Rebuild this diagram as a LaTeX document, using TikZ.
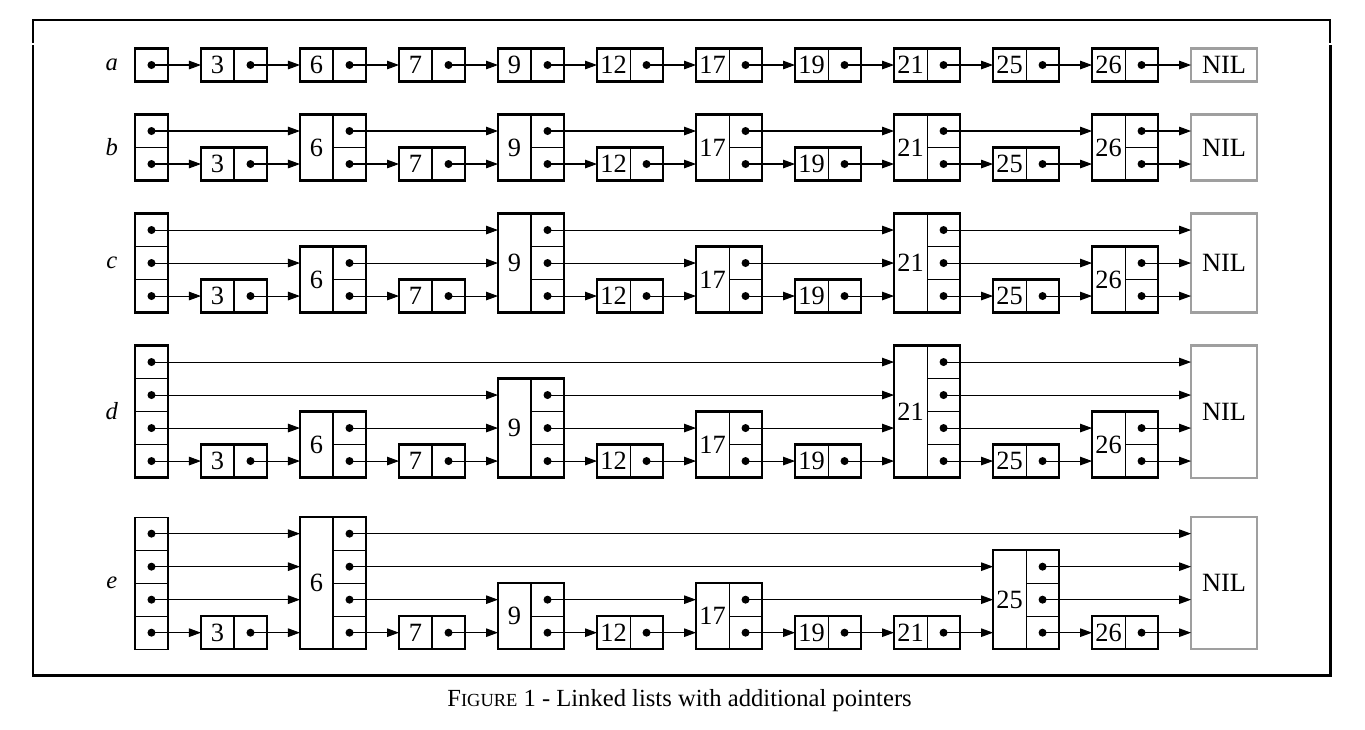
\documentclass[tikz,border=0pt]{standalone}
\usepackage{fontspec}
\setmainfont{Liberation Serif}
\usetikzlibrary{arrows.meta}

\def\cellsz{0.66cm}
\def\dotr{0.08cm}

\tikzset{
  keycell/.style={draw, line width=0.6pt, anchor=south west, inner sep=0pt, outer sep=0pt,
    minimum width=\cellsz, font=\fontsize{15}{17}\selectfont},
  ptrcell/.style={draw, line width=0.6pt, anchor=south west, inner sep=0pt, outer sep=0pt,
    minimum width=\cellsz, minimum height=\cellsz},
  outer/.style={line width=1.3pt},
  thinouter/.style={line width=0.6pt},
  nilbox/.style={draw=gray!75, line width=1.2pt, anchor=south west, inner sep=0pt, outer sep=0pt,
    minimum width=2*\cellsz, font=\fontsize{15}{17}\selectfont},
  ptr/.style={line width=0.6pt, -{Triangle[length=2.4mm, width=1.7mm]}},
  rowlabel/.style={font=\fontsize{14}{16}\selectfont\itshape},
}

% one element: name, x, bottom y, levels, key
\newcommand{\skipelem}[5]{%
  \node[keycell, minimum height=#4*\cellsz] (#1) at (#2,#3) {#5};
  \foreach \l in {1,...,#4} {
    \node[ptrcell] (#1-\l) at (#2+1,#3+\l-1) {};
    \fill (#1-\l) circle[radius=\dotr];
  }
  \draw[outer] (#1.south west) rectangle (#1-#4.north east);
}

% list head: [style], name, x, bottom y, levels
\newcommand{\skiphead}[5][outer]{%
  \foreach \l in {1,...,#5} {
    \node[ptrcell] (#2-\l) at (#3,#4+\l-1) {};
    \fill (#2-\l) circle[radius=\dotr];
  }
  \draw[#1] (#2-1.south west) rectangle (#2-#5.north east);
}

% NIL: name, x, bottom y, levels
\newcommand{\skipnil}[4]{%
  \node[nilbox, minimum height=#4*\cellsz] (#1) at (#2,#3) {NIL};
}

\begin{document}
\begin{tikzpicture}[x=\cellsz, y=\cellsz, font=\fontsize{14}{16}\selectfont]
  \useasboundingbox (-4.09,-2.42) rectangle (37.27,19.67);

  % frame
  \draw[line width=0.8pt] (-3.09,18.36) -- (-3.09,19.06) -- (36.21,19.06) -- (36.21,18.36);
  \draw[line width=1.7pt] (-3.09,18.3) -- (-3.09,-0.79) -- (36.21,-0.79) -- (36.21,18.3);

  % a
  \node[rowlabel] (la) at (-0.7,17.7) {a};
  \skiphead{a0}{0}{17.2}{1}
  \skipelem{a3}{2}{17.2}{1}{3}
  \skipelem{a6}{5}{17.2}{1}{6}
  \skipelem{a7}{8}{17.2}{1}{7}
  \skipelem{a9}{11}{17.2}{1}{9}
  \skipelem{a12}{14}{17.2}{1}{12}
  \skipelem{a17}{17}{17.2}{1}{17}
  \skipelem{a19}{20}{17.2}{1}{19}
  \skipelem{a21}{23}{17.2}{1}{21}
  \skipelem{a25}{26}{17.2}{1}{25}
  \skipelem{a26}{29}{17.2}{1}{26}
  \skipnil{aN}{32}{17.2}{1}
  \foreach \s/\l/\d in {a0/1/a3, a3/1/a6, a6/1/a7, a7/1/a9, a9/1/a12, a12/1/a17,
      a17/1/a19, a19/1/a21, a21/1/a25, a25/1/a26, a26/1/aN}
    \draw[ptr] (\s-\l.center) -- (\s-\l.center -| \d.west);

  % b
  \node[rowlabel] (lb) at (-0.7,15.2) {b};
  \skiphead{b0}{0}{14.2}{2}
  \skipelem{b3}{2}{14.2}{1}{3}
  \skipelem{b6}{5}{14.2}{2}{6}
  \skipelem{b7}{8}{14.2}{1}{7}
  \skipelem{b9}{11}{14.2}{2}{9}
  \skipelem{b12}{14}{14.2}{1}{12}
  \skipelem{b17}{17}{14.2}{2}{17}
  \skipelem{b19}{20}{14.2}{1}{19}
  \skipelem{b21}{23}{14.2}{2}{21}
  \skipelem{b25}{26}{14.2}{1}{25}
  \skipelem{b26}{29}{14.2}{2}{26}
  \skipnil{bN}{32}{14.2}{2}
  \foreach \s/\l/\d in {b0/1/b3, b3/1/b6, b6/1/b7, b7/1/b9, b9/1/b12, b12/1/b17,
      b17/1/b19, b19/1/b21, b21/1/b25, b25/1/b26, b26/1/bN,
      b0/2/b6, b6/2/b9, b9/2/b17, b17/2/b21, b21/2/b26, b26/2/bN}
    \draw[ptr] (\s-\l.center) -- (\s-\l.center -| \d.west);

  % c
  \node[rowlabel] (lc) at (-0.7,11.7) {c};
  \skiphead{c0}{0}{10.2}{3}
  \skipelem{c3}{2}{10.2}{1}{3}
  \skipelem{c6}{5}{10.2}{2}{6}
  \skipelem{c7}{8}{10.2}{1}{7}
  \skipelem{c9}{11}{10.2}{3}{9}
  \skipelem{c12}{14}{10.2}{1}{12}
  \skipelem{c17}{17}{10.2}{2}{17}
  \skipelem{c19}{20}{10.2}{1}{19}
  \skipelem{c21}{23}{10.2}{3}{21}
  \skipelem{c25}{26}{10.2}{1}{25}
  \skipelem{c26}{29}{10.2}{2}{26}
  \skipnil{cN}{32}{10.2}{3}
  \foreach \s/\l/\d in {c0/1/c3, c3/1/c6, c6/1/c7, c7/1/c9, c9/1/c12, c12/1/c17,
      c17/1/c19, c19/1/c21, c21/1/c25, c25/1/c26, c26/1/cN,
      c0/2/c6, c6/2/c9, c9/2/c17, c17/2/c21, c21/2/c26, c26/2/cN,
      c0/3/c9, c9/3/c21, c21/3/cN}
    \draw[ptr] (\s-\l.center) -- (\s-\l.center -| \d.west);

  % d
  \node[rowlabel] (ld) at (-0.7,7.2) {d};
  \skiphead{d0}{0}{5.2}{4}
  \skipelem{d3}{2}{5.2}{1}{3}
  \skipelem{d6}{5}{5.2}{2}{6}
  \skipelem{d7}{8}{5.2}{1}{7}
  \skipelem{d9}{11}{5.2}{3}{9}
  \skipelem{d12}{14}{5.2}{1}{12}
  \skipelem{d17}{17}{5.2}{2}{17}
  \skipelem{d19}{20}{5.2}{1}{19}
  \skipelem{d21}{23}{5.2}{4}{21}
  \skipelem{d25}{26}{5.2}{1}{25}
  \skipelem{d26}{29}{5.2}{2}{26}
  \skipnil{dN}{32}{5.2}{4}
  \foreach \s/\l/\d in {d0/1/d3, d3/1/d6, d6/1/d7, d7/1/d9, d9/1/d12, d12/1/d17,
      d17/1/d19, d19/1/d21, d21/1/d25, d25/1/d26, d26/1/dN,
      d0/2/d6, d6/2/d9, d9/2/d17, d17/2/d21, d21/2/d26, d26/2/dN,
      d0/3/d9, d9/3/d21, d21/3/dN,
      d0/4/d21, d21/4/dN}
    \draw[ptr] (\s-\l.center) -- (\s-\l.center -| \d.west);

  % e
  \node[rowlabel] (le) at (-0.7,2) {e};
  \skiphead[thinouter]{e0}{0}{0}{4}
  \skipelem{e3}{2}{0}{1}{3}
  \skipelem{e6}{5}{0}{4}{6}
  \skipelem{e7}{8}{0}{1}{7}
  \skipelem{e9}{11}{0}{2}{9}
  \skipelem{e12}{14}{0}{1}{12}
  \skipelem{e17}{17}{0}{2}{17}
  \skipelem{e19}{20}{0}{1}{19}
  \skipelem{e21}{23}{0}{1}{21}
  \skipelem{e25}{26}{0}{3}{25}
  \skipelem{e26}{29}{0}{1}{26}
  \skipnil{eN}{32}{0}{4}
  \foreach \s/\l/\d in {e0/1/e3, e3/1/e6, e6/1/e7, e7/1/e9, e9/1/e12, e12/1/e17,
      e17/1/e19, e19/1/e21, e21/1/e25, e25/1/e26, e26/1/eN,
      e0/2/e6, e6/2/e9, e9/2/e17, e17/2/e25, e25/2/eN,
      e0/3/e6, e6/3/e25, e25/3/eN,
      e0/4/e6, e6/4/eN}
    \draw[ptr] (\s-\l.center) -- (\s-\l.center -| \d.west);

  % caption
  \node (cap) at (16.5,-1.55) {F{\fontsize{10.5}{12}\selectfont IGURE} 1 - Linked lists with additional pointers};
\end{tikzpicture}
\end{document}
